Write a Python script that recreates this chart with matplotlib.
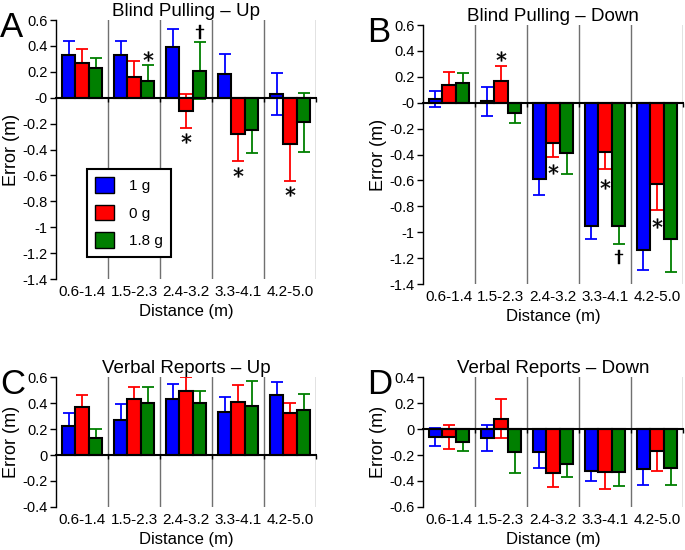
import numpy as np
import matplotlib
matplotlib.use('Agg')
import matplotlib.pyplot as plt
from matplotlib.patches import Patch
from matplotlib.ticker import FuncFormatter

plt.rcParams['font.family'] = ['Liberation Sans', 'DejaVu Sans']
plt.rcParams['axes.unicode_minus'] = False

# distance bins and gravity conditions
groups = ['0.6-1.4', '1.5-2.3', '2.4-3.2', '3.3-4.1', '4.2-5.0']
conditions = ['1 g', '0 g', '1.8 g']
colors = ['#0000ff', '#ff0000', '#007f00']

# A: blind pulling, up
pu_1g = [0.33, 0.33, 0.39, 0.18, 0.03]
pu_0g = [0.27, 0.16, -0.10, -0.28, -0.36]
pu_18g = [0.23, 0.13, 0.21, -0.25, -0.19]
pu_1g_err = [0.11, 0.11, 0.14, 0.16, 0.16]
pu_0g_err = [0.11, 0.12, 0.13, 0.21, 0.28]
pu_18g_err = [0.08, 0.12, 0.22, 0.18, 0.23]

# B: blind pulling, down
pd_1g = [0.03, 0.01, -0.59, -0.95, -1.14]
pd_0g = [0.14, 0.17, -0.31, -0.38, -0.63]
pd_18g = [0.15, -0.08, -0.39, -0.95, -1.05]
pd_1g_err = [0.06, 0.11, 0.12, 0.10, 0.15]
pd_0g_err = [0.10, 0.11, 0.11, 0.13, 0.20]
pd_18g_err = [0.08, 0.08, 0.16, 0.14, 0.26]

# C: verbal reports, up
vu_1g = [0.22, 0.27, 0.43, 0.33, 0.46]
vu_0g = [0.37, 0.43, 0.49, 0.41, 0.32]
vu_18g = [0.13, 0.40, 0.40, 0.38, 0.35]
vu_1g_err = [0.10, 0.12, 0.12, 0.12, 0.10]
vu_0g_err = [0.09, 0.09, 0.11, 0.13, 0.08]
vu_18g_err = [0.07, 0.12, 0.09, 0.19, 0.12]

# D: verbal reports, down
vd_1g = [-0.06, -0.07, -0.18, -0.32, -0.31]
vd_0g = [-0.06, 0.08, -0.34, -0.33, -0.17]
vd_18g = [-0.10, -0.18, -0.27, -0.33, -0.30]
vd_1g_err = [0.07, 0.10, 0.12, 0.08, 0.12]
vd_0g_err = [0.09, 0.15, 0.11, 0.13, 0.15]
vd_18g_err = [0.07, 0.16, 0.10, 0.11, 0.13]

# significance marks: (group, condition, y, symbol)
pu_marks = [(1, 2, 0.32, '*'), (2, 1, -0.31, '*'), (2, 2, 0.51, 'dag'),
            (3, 1, -0.57, '*'), (4, 1, -0.72, '*')]
pd_marks = [(1, 1, 0.36, '*'), (2, 1, -0.51, '*'), (3, 1, -0.63, '*'),
            (3, 2, -1.19, 'dag'), (4, 1, -0.93, '*')]

W = 0.26  # bar width (group = 1 unit)


def panel(ax, means, errs, title, letter, ylim, marks=None):
    x = np.arange(len(groups)) + 0.5
    for k in range(3):
        xk = x + (k - 1) * W
        ax.errorbar(xk, means[k], yerr=errs[k], fmt='none', ecolor=colors[k],
                    elinewidth=1.3, capsize=4.5, capthick=1.3, zorder=1)
        ax.bar(xk, means[k], width=W, color=colors[k], edgecolor='black',
               linewidth=1.5, zorder=2)
    if marks:
        for g, c, y, s in marks:
            if s == '*':
                ax.plot(x[g] + (c - 1) * W, y, marker='$*$', ms=7, mew=0.3,
                        color='black', zorder=4, clip_on=False)
            else:
                ax.plot(x[g] + (c - 1) * W, y, marker='$\\dagger$', ms=10,
                        mew=0.3, color='black', zorder=4, clip_on=False)
    # group separators
    for b in range(1, len(groups) + 1):
        ax.axvline(b, color='#707070', lw=1.0, zorder=0)
    ax.set_xlim(0, len(groups))
    ax.set_ylim(*ylim)
    ax.set_yticks(np.arange(ylim[0], ylim[1] + 0.01, 0.2))
    ax.yaxis.set_major_formatter(FuncFormatter(lambda v, p: '%g' % round(v, 1)))
    ax.spines['top'].set_visible(False)
    ax.spines['right'].set_visible(False)
    ax.spines['bottom'].set_position(('data', 0))
    ax.spines['bottom'].set_linewidth(1.5)
    ax.spines['bottom'].set_zorder(3)
    ax.spines['left'].set_linewidth(1.0)
    ax.set_xticks(range(1, len(groups) + 1))
    ax.set_xticklabels([])
    ax.tick_params(axis='x', length=3, width=1.0, direction='out')
    ax.tick_params(axis='y', length=4, width=1.0, labelsize=10.5, pad=2)
    for i, g in enumerate(groups):
        ax.annotate(g, (x[i], 0), xycoords=ax.get_xaxis_transform(),
                    xytext=(0, -4.5), textcoords='offset points',
                    ha='center', va='top', fontsize=11)
    ax.annotate('Distance (m)', (0.5, 0), xycoords='axes fraction',
                xytext=(0, -18), textcoords='offset points',
                ha='center', va='top', fontsize=12)
    ax.set_ylabel('Error (m)', fontsize=13, labelpad=2)
    ax.set_title(title, fontsize=13.5, pad=3)
    ax.annotate(letter, (0, 1), xycoords='axes fraction',
                xytext=(-56, 9), textcoords='offset pixels',
                fontsize=25, ha='left', va='top')


fig = plt.figure(figsize=(6.85, 5.5), dpi=100)
axA = fig.add_axes([0.0818, 0.4927, 0.3796, 0.4709])
axB = fig.add_axes([0.6175, 0.4836, 0.3796, 0.4709])
axC = fig.add_axes([0.0818, 0.0782, 0.3796, 0.2363])
axD = fig.add_axes([0.6175, 0.0782, 0.3796, 0.2363])

panel(axA, [pu_1g, pu_0g, pu_18g], [pu_1g_err, pu_0g_err, pu_18g_err],
      'Blind Pulling \u2013 Up', 'A', (-1.4, 0.6), pu_marks)
panel(axB, [pd_1g, pd_0g, pd_18g], [pd_1g_err, pd_0g_err, pd_18g_err],
      'Blind Pulling \u2013 Down', 'B', (-1.4, 0.6), pd_marks)
panel(axC, [vu_1g, vu_0g, vu_18g], [vu_1g_err, vu_0g_err, vu_18g_err],
      'Verbal Reports \u2013 Up', 'C', (-0.4, 0.6))
panel(axD, [vd_1g, vd_0g, vd_18g], [vd_1g_err, vd_0g_err, vd_18g_err],
      'Verbal Reports \u2013 Down', 'D', (-0.6, 0.4))

handles = [Patch(facecolor=c, edgecolor='black', linewidth=1.0) for c in colors]
leg = axA.legend(handles, conditions, loc='upper left',
                 bbox_to_anchor=(0.119, 0.425), fontsize=11, frameon=True,
                 fancybox=False, edgecolor='black', framealpha=1,
                 handlelength=1.2, handleheight=1.2, labelspacing=0.75,
                 borderpad=0.55, handletextpad=1.0, borderaxespad=0)
leg.get_frame().set_linewidth(1.5)
leg.set_zorder(5)

fig.savefig('out.png', dpi=100)
